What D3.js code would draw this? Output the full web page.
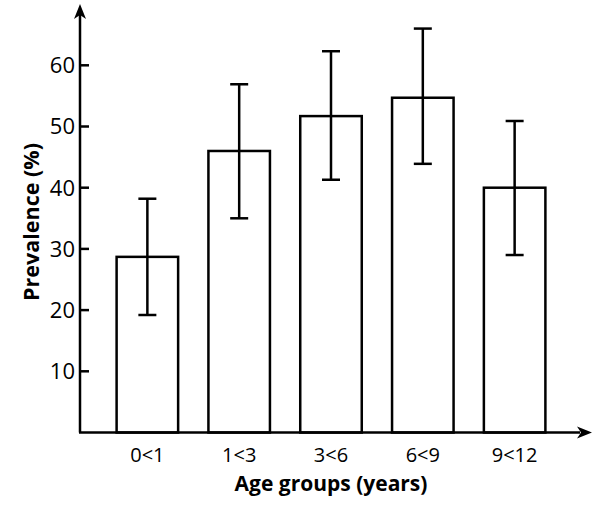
<!DOCTYPE html>
<html>
<head>
<meta charset="utf-8">
<script src="https://cdn.jsdelivr.net/npm/d3@7"></script>
<style>
  body { margin: 0; background: #fff; }
  text { font-family: "Open Sans", "Liberation Sans", sans-serif; }
</style>
</head>
<body>
<svg width="600" height="508"></svg>
<script>
var groups = ["0<1", "1<3", "3<6", "6<9", "9<12"];
var prevalence = [28.7, 46.0, 51.7, 54.7, 40.0];
var lower = [19.2, 35.0, 41.3, 43.9, 29.0];
var upper = [38.2, 56.9, 62.3, 66.0, 50.9];
var yTicks = [10, 20, 30, 40, 50, 60];

var svg = d3.select("svg");

var x0 = 80, yBase = 432.5;

var x = d3.scaleBand()
    .domain(groups)
    .range([101, 561])
    .paddingInner(0.33)
    .paddingOuter(0.17);

var y = d3.scaleLinear()
    .domain([0, 10])
    .range([yBase, yBase - 61.2]);

var data = groups.map(function(g, i) {
    return {g: g, v: prevalence[i], lo: lower[i], hi: upper[i]};
});

// bars
svg.selectAll(".bar").data(data).enter().append("rect")
    .attr("class", "bar")
    .attr("x", function(d) { return x(d.g); })
    .attr("width", x.bandwidth())
    .attr("y", function(d) { return y(d.v); })
    .attr("height", function(d) { return yBase - y(d.v); })
    .attr("fill", "none")
    .attr("stroke", "#000")
    .attr("stroke-width", 2.5);

// error bars
var err = svg.selectAll(".err").data(data).enter().append("g")
    .attr("class", "err")
    .attr("stroke", "#000")
    .attr("stroke-width", 2.5);

err.append("line")
    .attr("x1", function(d) { return x(d.g) + x.bandwidth() / 2; })
    .attr("x2", function(d) { return x(d.g) + x.bandwidth() / 2; })
    .attr("y1", function(d) { return y(d.lo); })
    .attr("y2", function(d) { return y(d.hi); });

err.selectAll(".cap")
    .data(function(d) { return [[d, d.lo], [d, d.hi]]; })
    .enter().append("line")
    .attr("x1", function(c) { return x(c[0].g) + x.bandwidth() / 2 - 9; })
    .attr("x2", function(c) { return x(c[0].g) + x.bandwidth() / 2 + 9; })
    .attr("y1", function(c) { return y(c[1]); })
    .attr("y2", function(c) { return y(c[1]); });

// y axis
svg.append("line")
    .attr("x1", x0).attr("x2", x0)
    .attr("y1", yBase).attr("y2", 12)
    .attr("stroke", "#000").attr("stroke-width", 2.5);
svg.append("path")
    .attr("d", "M" + x0 + ",4 L" + (x0 - 6) + ",19 L" + x0 + ",15 L" + (x0 + 6) + ",19 Z")
    .attr("fill", "#000");

svg.selectAll(".ytick").data(yTicks).enter().append("line")
    .attr("x1", x0).attr("x2", x0 + 9)
    .attr("y1", function(d) { return y(d); })
    .attr("y2", function(d) { return y(d); })
    .attr("stroke", "#000").attr("stroke-width", 2.5);

svg.selectAll(".ylab").data(yTicks).enter().append("text")
    .attr("x", x0 - 5)
    .attr("y", function(d) { return y(d); })
    .attr("dy", "0.36em")
    .attr("text-anchor", "end")
    .attr("font-size", 22)
    .text(function(d) { return d; });

// x axis
svg.append("line")
    .attr("x1", x0 - 1).attr("x2", 580)
    .attr("y1", yBase).attr("y2", yBase)
    .attr("stroke", "#000").attr("stroke-width", 2.5);
svg.append("path")
    .attr("d", "M592," + yBase + " L577," + (yBase - 6) + " L581," + yBase + " L577," + (yBase + 6) + " Z")
    .attr("fill", "#000");

svg.selectAll(".xlab").data(groups).enter().append("text")
    .attr("x", function(d) { return x(d) + x.bandwidth() / 2; })
    .attr("y", 462)
    .attr("text-anchor", "middle")
    .attr("font-size", 20)
    .text(function(d) { return d; });

// titles
svg.append("text")
    .attr("x", 331).attr("y", 491)
    .attr("text-anchor", "middle")
    .attr("font-size", 21)
    .attr("font-weight", "bold")
    .text("Age groups (years)");

svg.append("text")
    .attr("transform", "translate(39,222) rotate(-90)")
    .attr("text-anchor", "middle")
    .attr("font-size", 21.5)
    .attr("font-weight", "bold")
    .text("Prevalence (%)");
</script>
</body>
</html>
